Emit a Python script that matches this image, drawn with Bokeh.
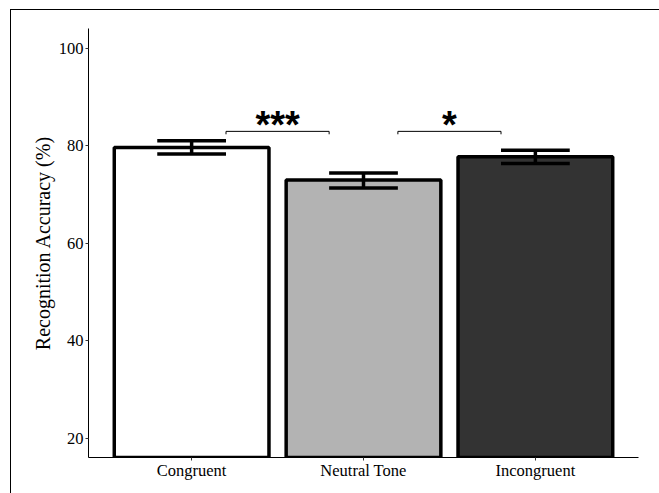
from bokeh.plotting import figure
from bokeh.models import Range1d, FixedTicker, Label, ColumnDataSource
from bokeh.core.properties import value
from bokeh.embed import file_html
from bokeh.resources import INLINE

# ---- data ----
categories = ["Congruent", "Neutral Tone", "Incongruent"]
means = [79.6, 72.9, 77.7]
err_upper = [80.95, 74.35, 79.05]
err_lower = [78.25, 71.3, 76.3]
bar_colors = ["#FFFFFF", "#B3B3B3", "#333333"]
y_ticks = [20, 40, 60, 80, 100]

# significance brackets (between group positions)
sig_from = [1.2, 2.2]
sig_to = [1.8, 2.8]
sig_y = [82.9, 82.9]
sig_text_y = [84.2, 84.2]
sig_labels = ["***", "*"]

positions = list(range(1, len(categories) + 1))

W, H = 659, 493
p = figure(width=W, height=H, output_backend="svg", toolbar_location=None,
           x_range=Range1d(0.4, len(categories) + 0.6),
           y_range=Range1d(16, 104),
           min_border_left=88, min_border_right=21,
           min_border_top=28, min_border_bottom=36,
           border_fill_color=None, background_fill_color=None,
           outline_line_color=None)
p.styles = {"box-shadow": "inset 10px 9px 0 0 #FFFFFF, inset 11px 10px 0 0 #000000"}
p.grid.visible = False

# bars
src = ColumnDataSource(dict(x=positions, top=means, color=bar_colors,
                            lo=err_lower, hi=err_upper))
p.vbar(x="x", top="top", bottom=0, width=0.9, fill_color="color",
       line_color="black", line_width=3.5, source=src)

# error bars
cap = 0.2
p.segment(x0="x", y0="lo", x1="x", y1="hi", line_color="black",
          line_width=3.5, source=src)
p.segment(x0=[x - cap for x in positions], y0=err_upper,
          x1=[x + cap for x in positions], y1=err_upper,
          line_color="black", line_width=3.5)
p.segment(x0=[x - cap for x in positions], y0=err_lower,
          x1=[x + cap for x in positions], y1=err_lower,
          line_color="black", line_width=3.5)

# significance brackets
tip = 0.6
bx, by = [], []
for a, b, y in zip(sig_from, sig_to, sig_y):
    bx.append([a, a, b, b])
    by.append([y - tip, y, y, y - tip])
p.multi_line(xs=bx, ys=by, line_color="black", line_width=1)
p.text(x=[(a + b) / 2 for a, b in zip(sig_from, sig_to)], y=sig_text_y,
       text=sig_labels, text_align="center", text_baseline="alphabetic",
       text_font=value("Liberation Sans"), text_font_style="bold",
       text_font_size="38px", text_color="black")

# axes
serif = "Liberation Serif"
for ax in (p.xaxis[0], p.yaxis[0]):
    ax.axis_line_color = "black"
    ax.axis_line_width = 1
    ax.major_tick_in = 0
    ax.major_tick_out = 3
    ax.major_tick_line_color = "#333333"
    ax.minor_tick_line_color = None
    ax.major_label_text_font = serif
    ax.major_label_text_font_size = "16.5px"
    ax.major_label_text_color = "black"

p.xaxis.ticker = FixedTicker(ticks=positions)
p.xaxis.major_label_overrides = {x: c for x, c in zip(positions, categories)}
p.xaxis.major_label_standoff = 0
p.yaxis.ticker = FixedTicker(ticks=y_ticks)
p.yaxis.major_label_standoff = 2

# axis titles
p.yaxis.axis_label = "Recognition Accuracy (%)"
p.yaxis.axis_label_text_font = serif
p.yaxis.axis_label_text_font_size = "20px"
p.yaxis.axis_label_text_font_style = "normal"
p.yaxis.axis_label_text_color = "black"
p.yaxis.axis_label_standoff = 2

p.add_layout(Label(x=(1 + len(categories)) / 2, y=11.9, text="Trial Type",
                   text_align="center", text_baseline="top",
                   text_font=serif, text_font_size="20px", text_color="black"))

open("out.html", "w").write(file_html(p, INLINE))
